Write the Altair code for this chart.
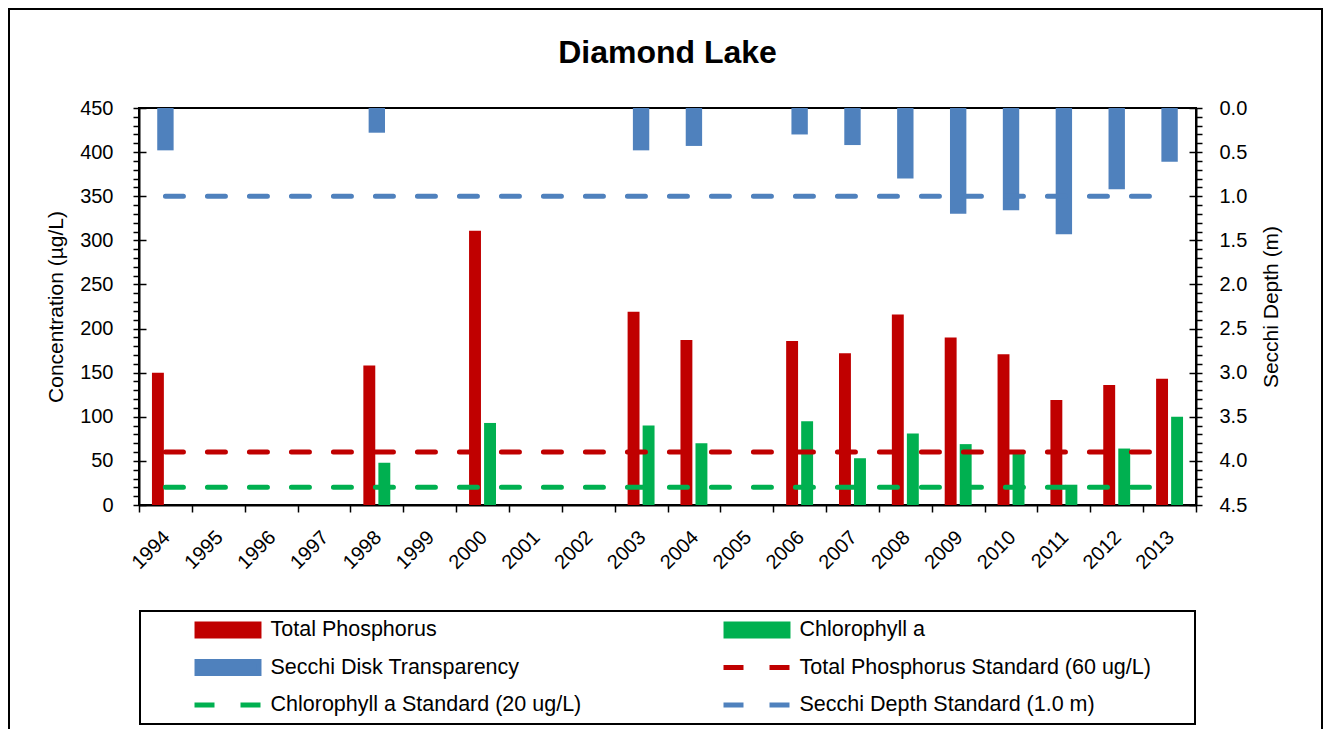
import altair as alt
import pandas as pd

# ---------------- data ----------------
years = ["1994", "1995", "1996", "1997", "1998", "1999", "2000", "2001", "2002", "2003",
         "2004", "2005", "2006", "2007", "2008", "2009", "2010", "2011", "2012", "2013"]
total_phosphorus = [150, None, None, None, 158, None, 311, None, None, 219,
                    187, None, 186, 172, 216, 190, 171, 119, 136, 143]
chlorophyll_a = [None, None, None, None, 48, None, 93, None, None, 90,
                 70, None, 95, 53, 81, 69, 58, 23, 64, 100]
secchi_depth = [0.48, None, None, None, 0.28, None, None, None, None, 0.48,
                0.43, None, 0.30, 0.42, 0.80, 1.20, 1.16, 1.43, 0.92, 0.61]

tp_standard = 60
chl_standard = 20
secchi_standard = 1.0

TP, CHL, SEC = "Total Phosphorus", "Chlorophyll a", "Secchi Disk Transparency"
TP_STD = "Total Phosphorus Standard (60 ug/L)"
CHL_STD = "Chlorophyll a Standard (20 ug/L)"
SEC_STD = "Secchi Depth Standard (1.0 m)"
# legend is filled column by column: column 1 then column 2
legend_order = [TP, SEC, CHL_STD, CHL, TP_STD, SEC_STD]
legend_colors = ["#C00000", "#4F81BD", "#00B050", "#00B050", "#C00000", "#4F81BD"]

# ---------------- tables ----------------
conc_rows = []
for yr, tp, ch in zip(years, total_phosphorus, chlorophyll_a):
    if tp is not None:
        conc_rows.append({"year": yr, "series": TP, "value": tp})
    if ch is not None:
        conc_rows.append({"year": yr, "series": CHL, "value": ch})
conc_df = pd.DataFrame(conc_rows)

secchi_df = pd.DataFrame([{"year": yr, "series": SEC, "value": s}
                          for yr, s in zip(years, secchi_depth) if s is not None])

def std_df(name, val):
    return pd.DataFrame([{"year": years[0], "series": name, "value": val},
                         {"year": years[-1], "series": name, "value": val}])

tp_std_df = std_df(TP_STD, tp_standard)
chl_std_df = std_df(CHL_STD, chl_standard)
secchi_std_df = std_df(SEC_STD, secchi_standard)

FONT = "Liberation Sans"

# ---------------- legend ----------------
bar_test = f"indexof(['{TP}','{CHL}','{SEC}'], datum.value) >= 0"
color_expr = "'transparent'"
for n, c in zip(reversed(legend_order), reversed(legend_colors)):
    color_expr = f"datum.value === '{n}' ? '{c}' : ({color_expr})"
PAD_RIGHT = "\u00a0" * 6 + "\u200b"   # keeps the legend frame as wide as the reference

legend = alt.Legend(
    title=" ", titleOrient="left", titlePadding=44, titleFontSize=20,
    orient="none", legendX=1, legendY=503,
    columns=2, columnPadding=139, rowPadding=15.5,
    padding=8, strokeColor="black", clipHeight=22,
    symbolSize=4489, symbolStrokeWidth=5,
    symbolType=alt.ExprRef(f"{bar_test} ? 'M-0.925,-0.179H0.925V0.179H-0.925Z' : 'stroke'"),
    symbolDash=alt.ExprRef(f"{bar_test} ? [1000, 0] : [20, 26]"),
    symbolStrokeColor=alt.ExprRef(color_expr),
    symbolFillColor=alt.ExprRef(f"{bar_test} ? ({color_expr}) : 'transparent'"),
    symbolOpacity=1,
    labelExpr=f"datum.label === '{TP_STD}' ? datum.label + '{PAD_RIGHT}' : datum.label",
    labelFont=FONT, labelFontSize=21.5, labelColor="black", labelOffset=6.5, labelLimit=600,
)

color = alt.Color("series:N", scale=alt.Scale(domain=legend_order, range=legend_colors), legend=legend)

# ---------------- axes ----------------
x_axis = alt.Axis(title=None, labelAngle=-45, labelAlign="right", labelBaseline="middle",
                  tickBand="extent", tickSize=7, tickWidth=1.5, tickColor="black",
                  labelFontSize=20, labelPadding=22, labelOffset=1, labelColor="black",
                  domainColor="black", domainWidth=2)
x_enc = alt.X("year:N", scale=alt.Scale(domain=years, paddingInner=0, paddingOuter=0), axis=x_axis)

major_l = "datum.value % 50 === 0"
left_axis = alt.Axis(
    orient="left", title="Concentration (µg/L)",
    values=list(range(0, 451, 10)),
    labelExpr=f"{major_l} ? datum.label : ''",
    labelOverlap=False, labelFlush=False,
    labelFontSize=20, titleFontSize=21, titleFontWeight="normal",
    tickSize=6, tickWidth=1.5, tickColor="black", labelPadding=20, titlePadding=13,
    domainColor="black", domainWidth=2,
    grid=True, gridColor="black", gridWidth=1.5,
    gridDash={"condition": {"test": major_l, "value": [7, 3000]}, "value": [0, 3000]},
    gridOpacity={"condition": {"test": major_l, "value": 1}, "value": 0},
)
y_left = alt.Y("value:Q", scale=alt.Scale(domain=[0, 450], nice=False, zero=True), axis=left_axis)

major_r = "round(datum.value * 10) % 5 === 0"
right_axis = alt.Axis(
    orient="right", title="Secchi Depth (m)", titleAngle=270, titleBaseline="top",
    values=[round(i * 0.1, 1) for i in range(46)],
    labelExpr=f"{major_r} ? format(datum.value, '.1f') : ''",
    labelOverlap=False, labelFlush=False,
    labelFontSize=20, titleFontSize=21, titleFontWeight="normal",
    tickSize=6, tickWidth=1.5, tickColor="black", labelPadding=17, titlePadding=14,
    domainColor="black", domainWidth=2,
    grid=True, gridColor="black", gridWidth=1.5,
    gridDash={"condition": {"test": major_r, "value": [7, 3000]}, "value": [0, 3000]},
    gridOpacity={"condition": {"test": major_r, "value": 1}, "value": 0},
)
y_right = alt.Y("value:Q", scale=alt.Scale(domain=[0, 4.5], nice=False, reverse=True), axis=right_axis)

# ---------------- marks ----------------
conc_bars = alt.Chart(conc_df).mark_bar().encode(
    x=x_enc,
    xOffset=alt.XOffset("series:N", scale=alt.Scale(domain=[TP, CHL], paddingInner=0.207, paddingOuter=0.862)),
    y=y_left,
    color=color,
)

line_kw = dict(strokeDash=[18, 24], strokeWidth=5, strokeCap="round")
tp_line = alt.Chart(tp_std_df).mark_line(**line_kw).encode(x=x_enc, y=y_left, color=color)
chl_line = alt.Chart(chl_std_df).mark_line(**line_kw).encode(x=x_enc, y=y_left, color=color)

secchi_bars = alt.Chart(secchi_df).mark_bar(width=alt.RelativeBandSize(0.31)).encode(
    x=x_enc, y=y_right, color=color)
secchi_line = alt.Chart(secchi_std_df).mark_line(**line_kw).encode(x=x_enc, y=y_right, color=color)

left = alt.layer(conc_bars, tp_line, chl_line)
right = alt.layer(secchi_bars, secchi_line)

frame = alt.Chart(alt.Data(values=[{"frame": 1}])).mark_rect(
    fill="transparent", stroke="black", strokeWidth=2).encode(
    x=alt.value(-130), x2=alt.value(1183), y=alt.value(-99), y2=alt.value(640))

chart = alt.layer(left, right, frame).resolve_scale(y="independent").properties(
    width=1057, height=397,
    title=alt.Title("Diamond Lake", fontSize=32, fontWeight="bold", font=FONT,
                    anchor="middle", frame="group", offset=-62, color="black"),
    autosize=alt.AutoSizeParams(type="none"),
    padding={"left": 131, "top": 100, "right": 127, "bottom": 224},
    background="white",
).configure_axis(
    labelFont=FONT, titleFont=FONT, labelColor="black", titleColor="black",
).configure_legend(
    strokeWidth=2,
).configure_view(stroke="black", strokeWidth=2)

chart.save("out.html", embed_options={"renderer": "svg", "actions": False})
